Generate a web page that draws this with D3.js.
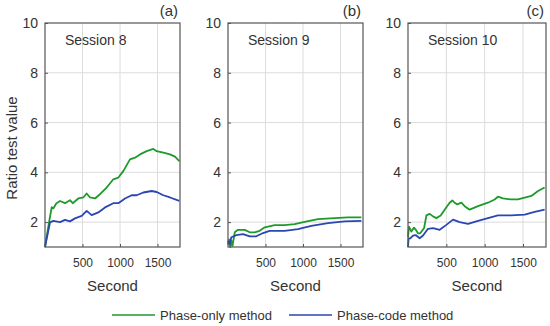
<!DOCTYPE html>
<html>
<head>
<meta charset="utf-8">
<script src="https://cdn.jsdelivr.net/npm/d3@7"></script>
<style>
    body { margin: 0; background: #fff; }
    text { font-family: "Liberation Sans", Arial, sans-serif; fill: #333; }
</style>
</head>
<body>
<div id="chart"></div>
<script>
// values (seconds / ratio test value)
const xTicks = [500, 1000, 1500];
const yTicks = [2, 4, 6, 8, 10];
const seriesNames = ["Phase-only method", "Phase-code method"];
const panelLabels = ["(a)", "(b)", "(c)"];
const sessionNames = ["Session 8", "Session 9", "Session 10"];

const s8OnlySec = [0, 60, 90, 111, 150, 200, 267, 333, 369, 444, 511, 556, 600, 667, 733, 822, 911, 978, 1044, 1133, 1200, 1267, 1356, 1444, 1489, 1578, 1667, 1733, 1791];
const s8OnlyVal = [1.0, 2.1, 2.6, 2.55, 2.75, 2.85, 2.76, 2.88, 2.76, 2.95, 2.99, 3.15, 2.99, 2.95, 3.12, 3.39, 3.72, 3.79, 4.05, 4.52, 4.59, 4.72, 4.85, 4.94, 4.85, 4.79, 4.72, 4.63, 4.45];
const s8CodeSec = [0, 67, 111, 200, 267, 333, 400, 489, 556, 622, 711, 800, 911, 978, 1067, 1156, 1222, 1311, 1422, 1489, 1578, 1667, 1791];
const s8CodeVal = [1.0, 1.99, 2.05, 2.0, 2.09, 2.03, 2.15, 2.25, 2.45, 2.28, 2.39, 2.59, 2.76, 2.76, 2.95, 3.08, 3.08, 3.19, 3.25, 3.21, 3.08, 2.99, 2.85];

const s9OnlySec = [0, 15, 30, 45, 60, 90, 133, 222, 290, 355, 422, 490, 622, 755, 888, 1022, 1200, 1422, 1600, 1778];
const s9OnlyVal = [1.1, 1.3, 1.0, 1.25, 1.05, 1.59, 1.69, 1.69, 1.59, 1.59, 1.65, 1.79, 1.88, 1.88, 1.92, 2.01, 2.12, 2.16, 2.19, 2.19];
const s9CodeSec = [0, 20, 45, 112, 200, 290, 378, 467, 555, 755, 933, 1111, 1333, 1555, 1778];
const s9CodeVal = [1.25, 1.1, 1.39, 1.48, 1.52, 1.43, 1.43, 1.56, 1.65, 1.65, 1.72, 1.85, 1.96, 2.03, 2.05];

const s10OnlySec = [0, 13, 44, 78, 100, 130, 160, 210, 240, 283, 326, 370, 426, 478, 543, 578, 600, 643, 696, 739, 804, 913, 1043, 1130, 1173, 1239, 1348, 1435, 1522, 1609, 1696, 1782];
const s10OnlyVal = [1.4, 1.82, 1.62, 1.78, 1.7, 1.55, 1.55, 1.76, 2.27, 2.33, 2.23, 2.16, 2.27, 2.5, 2.78, 2.87, 2.8, 2.71, 2.78, 2.64, 2.5, 2.64, 2.78, 2.91, 3.02, 2.95, 2.91, 2.91, 2.98, 3.05, 3.25, 3.39];
const s10CodeSec = [0, 8, 30, 65, 100, 152, 196, 261, 326, 413, 500, 587, 674, 783, 913, 1043, 1173, 1348, 1522, 1652, 1782];
const s10CodeVal = [1.0, 1.35, 1.35, 1.46, 1.48, 1.35, 1.46, 1.73, 1.76, 1.69, 1.89, 2.1, 2.0, 1.93, 2.05, 2.16, 2.27, 2.27, 2.3, 2.41, 2.5];

const COLORS = ["#1e9a2c", "#2a46b2"];

const width = 550, height = 326;
const plotTop = 23, plotBottom = 247;

// panel layout, built from the arrays above
const panels = [
    { left: 45, right: 180, series: [[s8OnlySec, s8OnlyVal], [s8CodeSec, s8CodeVal]] },
    { left: 228, right: 363, series: [[s9OnlySec, s9OnlyVal], [s9CodeSec, s9CodeVal]] },
    { left: 408, right: 546, series: [[s10OnlySec, s10OnlyVal], [s10CodeSec, s10CodeVal]] }
];

const svg = d3.select("#chart").append("svg")
    .attr("width", width)
    .attr("height", height);

const y = d3.scaleLinear().domain([1, 10]).range([plotBottom, plotTop]);

panels.forEach((p, i) => {
    const x = d3.scaleLinear().domain([0, 1800]).range([p.left, p.right]);
    const g = svg.append("g");

    // grid
    g.append("g")
        .selectAll("line")
        .data(xTicks)
        .join("line")
        .attr("x1", d => x(d)).attr("x2", d => x(d))
        .attr("y1", plotTop).attr("y2", plotBottom)
        .attr("stroke", "#dcdcdc").attr("stroke-width", 1);
    g.append("g")
        .selectAll("line")
        .data(yTicks.filter(d => d < 10))
        .join("line")
        .attr("x1", p.left).attr("x2", p.right)
        .attr("y1", d => y(d)).attr("y2", d => y(d))
        .attr("stroke", "#dcdcdc").attr("stroke-width", 1);

    // axes (ticks pointing inward, matlab style)
    const xAxis = g.append("g")
        .attr("transform", `translate(0,${plotBottom})`)
        .call(d3.axisBottom(x).tickValues(xTicks).tickFormat(d3.format("d"))
            .tickSizeInner(-3).tickSizeOuter(0).tickPadding(11));
    const yAxis = g.append("g")
        .attr("transform", `translate(${p.left},0)`)
        .call(d3.axisLeft(y).tickValues(yTicks).tickSizeInner(-3).tickSizeOuter(0).tickPadding(7));
    [xAxis, yAxis].forEach(a => {
        a.select(".domain").remove();
        a.selectAll(".tick line").attr("stroke", "#555");
        a.selectAll(".tick text").attr("fill", "#333").style("font-family", "'Liberation Sans', Arial, sans-serif");
    });
    xAxis.selectAll(".tick text").style("font-size", "12px");
    yAxis.selectAll(".tick text").style("font-size", "14px");

    // lines
    const line = d3.line()
        .x(d => x(d[0]))
        .y(d => y(d[1]));
    p.series.forEach((s, k) => {
        const pts = s[0].map((t, j) => [t, s[1][j]]);
        g.append("path")
            .datum(pts)
            .attr("fill", "none")
            .attr("stroke", COLORS[k])
            .attr("stroke-width", 1.8)
            .attr("stroke-linejoin", "round")
            .attr("d", line);
    });

    // box
    g.append("rect")
        .attr("x", p.left).attr("y", plotTop)
        .attr("width", p.right - p.left).attr("height", plotBottom - plotTop)
        .attr("fill", "none")
        .attr("stroke", "#555").attr("stroke-width", 1.2);

    g.append("text")
        .attr("x", p.left + 20).attr("y", 45)
        .style("font-size", "14px")
        .text(sessionNames[i]);

    g.append("text")
        .attr("x", p.right - 2).attr("y", 16)
        .attr("text-anchor", "end")
        .style("font-size", "15px")
        .text(panelLabels[i]);

    g.append("text")
        .attr("x", (p.left + p.right) / 2).attr("y", 291)
        .attr("text-anchor", "middle")
        .style("font-size", "15px")
        .text("Second");
});

svg.append("text")
    .attr("transform", "translate(17,148) rotate(-90)")
    .attr("text-anchor", "middle")
    .style("font-size", "15px")
    .text("Ratio test value");

// legend
const legend = svg.append("g").attr("transform", "translate(112,315)");
const legendX = [0, 177];
seriesNames.forEach((name, k) => {
    legend.append("line")
        .attr("x1", legendX[k]).attr("x2", legendX[k] + 43)
        .attr("y1", 0).attr("y2", 0)
        .attr("stroke", COLORS[k]).attr("stroke-width", 1.5);
    legend.append("text")
        .attr("x", legendX[k] + 48).attr("y", 5)
        .style("font-size", "13px")
        .text(name);
});
</script>
</body>
</html>
